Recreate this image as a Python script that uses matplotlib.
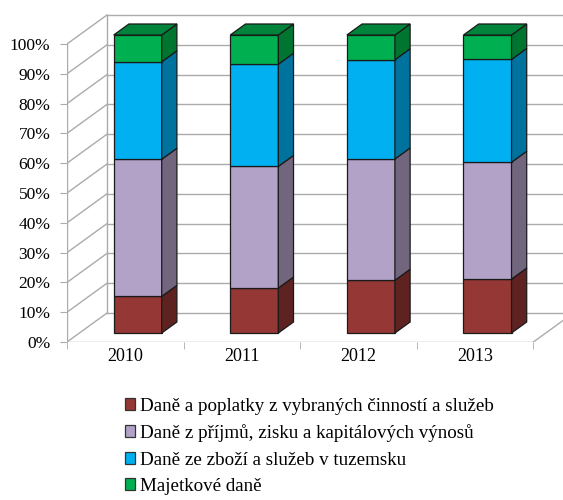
import matplotlib.pyplot as plt
from matplotlib.patches import Polygon, Patch

plt.rcParams['font.family'] = ['Liberation Serif', 'DejaVu Serif']

# Data (share of total, %)
years = ["2010", "2011", "2012", "2013"]
series_names = [
    "Daně a poplatky z vybraných činností a služeb",
    "Daně z příjmů, zisku a kapitálových výnosů",
    "Daně ze zboží a služeb v tuzemsku",
    "Majetkové daně",
]
poplatky = [12.3, 15.1, 17.7, 18.1]
prijmy = [46.0, 40.8, 40.7, 39.2]
zbozi = [32.7, 34.3, 33.3, 34.5]
majetek = [9.0, 9.8, 8.3, 8.2]
values = [poplatky, prijmy, zbozi, majetek]

front_colors = ["#953735", "#b3a2c7", "#00b0f0", "#00b050"]
side_colors = ["#5e2221", "#72667f", "#00729e", "#007530"]
top_color = "#00833a"
grid_color = "#ababab"

# oblique projection of the depth axis (in data units)
depth_x, depth_y = 0.343, 9.73
bar_front, bar_back = 0.31, 0.69
bar_w = 0.412

fig = plt.figure(figsize=(5.63, 5.0), dpi=100)
ax = fig.add_axes([67 / 563, 158 / 500, 496 / 563, 342 / 500])
ax.set_xlim(0, 496 / 116.6)
ax.set_ylim(0, 342 / 2.98)
for s in ax.spines.values():
    s.set_visible(False)

# walls and floor
n = len(years)
for y in range(0, 101, 10):
    ax.plot([0, depth_x], [y, y + depth_y], color=grid_color, lw=1, zorder=1)
    ax.plot([depth_x, n + depth_x], [y + depth_y, y + depth_y], color=grid_color, lw=1, zorder=1)
ax.plot([0, 0], [0, 100], color=grid_color, lw=1, zorder=1)
ax.plot([depth_x, depth_x], [depth_y, 100 + depth_y], color=grid_color, lw=1, zorder=1)
ax.plot([0, n], [0, 0], color=grid_color, lw=1, zorder=1)
ax.plot([n, n + depth_x], [0, depth_y], color=grid_color, lw=1, zorder=1)

# bars: front faces through ax.bar, sides and tops as polygons
centers = [i + 0.5 + bar_front * depth_x for i in range(n)]
base = bar_front * depth_y
bdx = (bar_back - bar_front) * depth_x
bdy = (bar_back - bar_front) * depth_y
bottoms = [base] * n
for k, vals in enumerate(values):
    ax.bar(centers, vals, width=bar_w, bottom=bottoms, color=front_colors[k],
           edgecolor="#1a1a1a", linewidth=0.9, zorder=3)
    for i in range(n):
        x1 = centers[i] + bar_w / 2
        b, t = bottoms[i], bottoms[i] + vals[i]
        ax.add_patch(Polygon([(x1, b), (x1 + bdx, b + bdy), (x1 + bdx, t + bdy), (x1, t)],
                             closed=True, facecolor=side_colors[k], edgecolor="#1a1a1a",
                             linewidth=0.9, zorder=3))
    bottoms = [bottoms[i] + vals[i] for i in range(n)]

for i in range(n):
    x0, x1 = centers[i] - bar_w / 2, centers[i] + bar_w / 2
    t = bottoms[i]
    ax.add_patch(Polygon([(x0, t), (x1, t), (x1 + bdx, t + bdy), (x0 + bdx, t + bdy)],
                         closed=True, facecolor=top_color, edgecolor="#1a1a1a",
                         linewidth=0.9, zorder=3))

# axes ticks and labels
ax.set_yticks(range(0, 101, 10))
ax.set_yticklabels([f"{v}%" for v in range(0, 101, 10)], fontsize=12.5)
ax.tick_params(axis="y", length=5, color=grid_color, pad=7)
ax.set_xticks([i + 0.5 for i in range(n)])
ax.set_xticklabels(years, fontsize=13)
ax.set_xticks(range(n + 1), minor=True)
ax.tick_params(axis="x", which="major", length=0, pad=4)
ax.tick_params(axis="x", which="minor", length=5, color=grid_color)

handles = [Patch(facecolor=c, edgecolor="#333333", linewidth=0.9) for c in front_colors]
fig.legend(handles, series_names, loc="upper left", bbox_to_anchor=(117 / 563, 1 - 390 / 500),
           frameon=False, fontsize=13.7, handlelength=0.57, handleheight=0.57,
           handletextpad=0.25, labelspacing=0.5, borderaxespad=0)

fig.savefig("out.png", dpi=100)
